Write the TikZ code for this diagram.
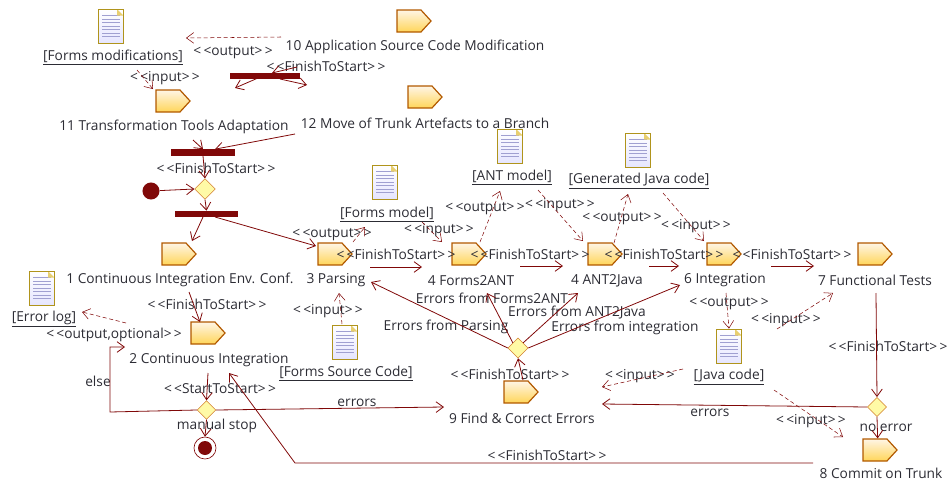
\documentclass[tikz,border=0pt]{standalone}
\usepackage{fontspec}
\setmainfont{Open Sans}
\usetikzlibrary{arrows.meta}
\usetikzlibrary{shapes.geometric,shapes.symbols}
\definecolor{flowred}{HTML}{800808}
\definecolor{inktext}{HTML}{2C2C34}
\newcommand{\stereo}[1]{<\kern1.7pt<#1>\kern1.7pt>}
\tikzset{
  flow/.style={draw=flowred, line width=0.6pt, -{Straight Barb[length=5.5pt,width=8pt]}},
  objflow/.style={flow, densely dashed, line width=0.4pt},
  lbl/.style={inner sep=0pt, yshift=-1pt, text=inktext, font=\fontsize{10.3}{12}\selectfont},
  action/.style={signal, signal to=east, signal pointer angle=95, draw=#1, line width=0.9pt, inner sep=0pt,
    minimum width=25.5pt, minimum height=16.5pt, top color=yellow!22!orange!10, bottom color=orange!50!yellow!65},
  action/.default={orange!70!black},
  syncbar/.style={fill=flowred, draw=none, inner sep=0pt, minimum height=4.6pt},
  choice/.style={diamond, aspect=1, draw=brown!70!orange, fill=yellow!35, inner sep=0pt, minimum size=#1},
  choice/.default=15.5pt,
  docicon/.style={rectangle, draw=brown!55!yellow!80!black, line width=0.6pt, inner sep=0pt, minimum width=19pt, minimum height=25.5pt,
    top color=white, bottom color=blue!10,
    path picture={
      \foreach \k in {1,...,7}
        \draw[blue!35!gray!55, line width=0.5pt] ([xshift=3pt,yshift=-2.4pt-\k*2.6pt]path picture bounding box.north west) -- ([xshift=-3pt,yshift=-2.4pt-\k*2.6pt]path picture bounding box.north east);
      \fill[white] ([xshift=-5pt]path picture bounding box.north east) -- (path picture bounding box.north east) -- ([yshift=-5pt]path picture bounding box.north east) -- cycle;
      \fill[yellow!45!brown!70] ([xshift=-5pt]path picture bounding box.north east) -- ([xshift=-5pt,yshift=-5pt]path picture bounding box.north east) -- ([yshift=-5pt]path picture bounding box.north east) -- cycle;
    }},
}
\begin{document}
\begin{tikzpicture}[x=0.75pt, y=-0.75pt]
\useasboundingbox (0,0) rectangle (951,482);

% actions
\node[action] (act10) at (409,21) {};
\node[action] (act12) at (420,97) {};
\node[action] (act11) at (168,101) {};
\node[action] (act1) at (174,254) {};
\node[action] (act3) at (330,254) {};
\node[action] (act4f) at (464,254) {};
\node[action] (act4a) at (600,254) {};
\node[action] (act6) at (719,254) {};
\node[action] (act7) at (870,254) {};
\node[action] (act2) at (203,333) {};
\node[action] (act9) at (516,392) {};
\node[action] (act8) at (875,450) {};

% artefacts
\node[docicon] (docFm) at (111,26) {};
\node[docicon] (docFmod) at (385,182) {};
\node[docicon] (docAnt) at (510,146) {};
\node[docicon] (docGen) at (638,150) {};
\node[docicon] (docLog) at (42,288) {};
\node[docicon] (docSrc) at (345,342) {};
\node[docicon] (docJava) at (729,346) {};

% bars and decisions
\node[syncbar, minimum width=52.5pt] (barA) at (265,76) {};
\node[syncbar, minimum width=47.5pt] (barB) at (203,152.5) {};
\node[syncbar, minimum width=47.5pt] (barC) at (206.5,214) {};
\node[choice] (decA) at (205,189) {};
\node[choice=14pt] (decB) at (206.5,410) {};
\node[choice=15pt] (decC) at (518,348) {};
\node[choice=14.5pt] (decD) at (877,407) {};
\node[circle, fill=flowred, inner sep=0pt, minimum size=12.8pt] (start) at (151,191) {};
\node[circle, draw=flowred, line width=0.5pt, inner sep=0pt, minimum size=16.5pt] (stopO) at (205,448) {};
\node[circle, fill=flowred, inner sep=0pt, minimum size=10.5pt] (stopI) at (205,448) {};

% labels
\node[lbl] (lFm) at (113,56) {\underline{[Forms modifications]}};
\node[lbl] (lFmod) at (387,213) {\underline{[Forms model]}};
\node[lbl] (lAnt) at (512,176) {\underline{[ANT model]}};
\node[lbl] (lGen) at (639,180) {\underline{[Generated Java code]}};
\node[lbl] (lLog) at (44,318) {\underline{[Error log]}};
\node[lbl] (lSrc) at (346,372) {\underline{[Forms Source Code]}};
\node[lbl] (lJava) at (729,376) {\underline{[Java code]}};
\node[lbl] (l10) at (415,46) {10 Application Source Code Modification};
\node[lbl] (l11) at (174,126) {11 Transformation Tools Adaptation};
\node[lbl] (l12) at (425,122) {12 Move of Trunk Artefacts to a Branch};
\node[lbl] (l1) at (180,279) {1 Continuous Integration Env. Conf.};
\node[lbl] (l2) at (209,359) {2 Continuous Integration};
\node[lbl] (l3) at (336,279) {3 Parsing};
\node[lbl] (l4f) at (471,279) {4 Forms2ANT};
\node[lbl] (l4a) at (607,279) {4 ANT2Java};
\node[lbl] (l6) at (725,279) {6 Integration};
\node[lbl] (l7) at (875,279) {7 Functional Tests};
\node[lbl] (l8) at (881,472) {8 Commit on Trunk};
\node[lbl] (l9) at (522,417) {9 Find \& Correct Errors};
\node[lbl] (eF) at (492,297) {Errors from Forms2ANT};
\node[lbl] (eA) at (577,311) {Errors from ANT2Java};
\node[lbl] (eP) at (446,326) {Errors from Parsing};
\node[lbl] (eI) at (625,327) {Errors from integration};
\node[lbl] (lElse) at (98,380) {else};
\node[lbl] (lStop) at (217,425) {manual stop};
\node[lbl] (lErrA) at (357,401) {errors};
\node[lbl] (lErrB) at (710,411) {errors};
\node[lbl] (lNo) at (886,426) {no error};

\foreach \n/\x/\y in {a/326/65, b/216/167, c/396/253, d/530/253, e/664/253, f/792/253, g/207/303, h/510/373, i/547/454, j/888/345}
  \node[lbl] (fs\n) at (\x,\y) {\stereo{FinishToStart}};
\node[lbl] (ssA) at (220,387) {\stereo{StartToStart}};
\node[lbl] (outA) at (233,51) {\stereo{output}};
\node[lbl] (outB) at (332,233) {\stereo{output}};
\node[lbl] (outC) at (485,207) {\stereo{output}};
\node[lbl] (outD) at (622,217) {\stereo{output}};
\node[lbl] (outE) at (729,302) {\stereo{output}};
\node[lbl] (outF) at (114,334) {\stereo{output,optional}};
\node[lbl] (inA) at (165,77) {\stereo{input}};
\node[lbl] (inB) at (439,229) {\stereo{input}};
\node[lbl] (inC) at (560,204) {\stereo{input}};
\node[lbl] (inD) at (696,225) {\stereo{input}};
\node[lbl] (inE) at (328,310) {\stereo{input}};
\node[lbl] (inF) at (640,375) {\stereo{input}};
\node[lbl] (inG) at (786,319) {\stereo{input}};
\node[lbl] (inH) at (811,420) {\stereo{input}};

% free ends of connectors
\coordinate (e1) at (281,37);
\coordinate (e2) at (186,38);
\coordinate (e3) at (137,70);
\coordinate (e4) at (153,89);
\coordinate (e5) at (258,78);
\coordinate (e6) at (235,88);
\coordinate (e7) at (280,79);
\coordinate (e8) at (307,85);
\coordinate (e9) at (297,67);
\coordinate (e10) at (272,73);
\coordinate (e11) at (193,140);
\coordinate (e12) at (295,134);
\coordinate (e13) at (203,217);
\coordinate (e14) at (192,241);
\coordinate (e15) at (215,217);
\coordinate (e16) at (316,246);
\coordinate (e17) at (189,292);
\coordinate (e18) at (200,322);
\coordinate (e19) at (126,323);
\coordinate (e20) at (82,312);
\coordinate (e21) at (110,412);
\coordinate (e22) at (110,347);
\coordinate (e23) at (125,347);
\coordinate (e24) at (444,407);
\coordinate (e25) at (208,373);
\coordinate (e26) at (813,463);
\coordinate (e27) at (295,463);
\coordinate (e28) at (229,373);
\coordinate (e29) at (342,324);
\coordinate (e30) at (339,293);
\coordinate (e31) at (353,242);
\coordinate (e32) at (365,227);
\coordinate (e33) at (422,222);
\coordinate (e34) at (442,242);
\coordinate (e35) at (370,267);
\coordinate (e36) at (422,267);
\coordinate (e37) at (480,242);
\coordinate (e38) at (500,191);
\coordinate (e39) at (538,190);
\coordinate (e40) at (583,241);
\coordinate (e41) at (520,266);
\coordinate (e42) at (563,266);
\coordinate (e43) at (614,243);
\coordinate (e44) at (628,194);
\coordinate (e45) at (663,193);
\coordinate (e46) at (704,241);
\coordinate (e47) at (649,266);
\coordinate (e48) at (679,266);
\coordinate (e49) at (771,266);
\coordinate (e50) at (814,266);
\coordinate (e51) at (876,293);
\coordinate (e52) at (602,404);
\coordinate (e53) at (726,293);
\coordinate (e54) at (683,369);
\coordinate (e55) at (602,387);
\coordinate (e56) at (777,329);
\coordinate (e57) at (833,293);
\coordinate (e58) at (774,390);
\coordinate (e59) at (843,437);
\coordinate (e60) at (371,282);
\coordinate (e61) at (487,293);
\coordinate (e62) at (578,293);
\coordinate (e63) at (680,285);
\coordinate (e64) at (523,380);

% connectors
\draw[objflow] (e1) -- (e2);
\draw[objflow] (e3) -- (e4);
\draw[flow] (e5) -- (e6);
\draw[flow] (e7) -- (e8);
\draw[flow] (e9) -- (e10);
\draw[flow] (e11) -- (barB.north);
\draw[flow] (e12) -- ([xshift=9pt]barB.north);
\draw[flow] (barB.south) -- (decA.north);
\draw[flow] (start) -- (decA.west);
\draw[flow] (decA.south) -- (barC.north);
\draw[flow] (e13) -- (e14);
\draw[flow] (e15) -- (e16);
\draw[flow] (e17) -- (e18);
\draw[objflow] (e19) -- (e20);
\draw[flow] (decB.west) -- (e21) -- (e22) -- (e23);
\draw[flow] (decB.east) -- (e24);
\draw[flow] (e25) -- (decB.north);
\draw[flow] (decB.south) -- (stopO.north);
\draw[flow] (e26) -- (e27) -- (e28);
\draw[objflow] (e29) -- (e30);
\draw[objflow] (e31) -- (e32);
\draw[objflow] (e33) -- (e34);
\draw[flow] (e35) -- (e36);
\draw[objflow] (e37) -- (e38);
\draw[objflow] (e39) -- (e40);
\draw[flow] (e41) -- (e42);
\draw[objflow] (e43) -- (e44);
\draw[objflow] (e45) -- (e46);
\draw[flow] (e47) -- (e48);
\draw[flow] (e49) -- (e50);
\draw[flow] (e51) -- (decD.north);
\draw[flow] (decD.south) -- ([xshift=2pt]act8.north);
\draw[flow] (decD.west) -- (e52);
\draw[objflow] (e53) -- (docJava.north);
\draw[objflow] (e54) -- (e55);
\draw[objflow] (e56) -- (e57);
\draw[objflow] (e58) -- (e59);
\draw[flow] (decC.west) -- (e60);
\draw[flow] (decC.north west) -- (e61);
\draw[flow] (decC.north east) -- (e62);
\draw[flow] (decC.east) -- (e63);
\draw[flow] (e64) -- (decC.south);
\end{tikzpicture}
\end{document}
